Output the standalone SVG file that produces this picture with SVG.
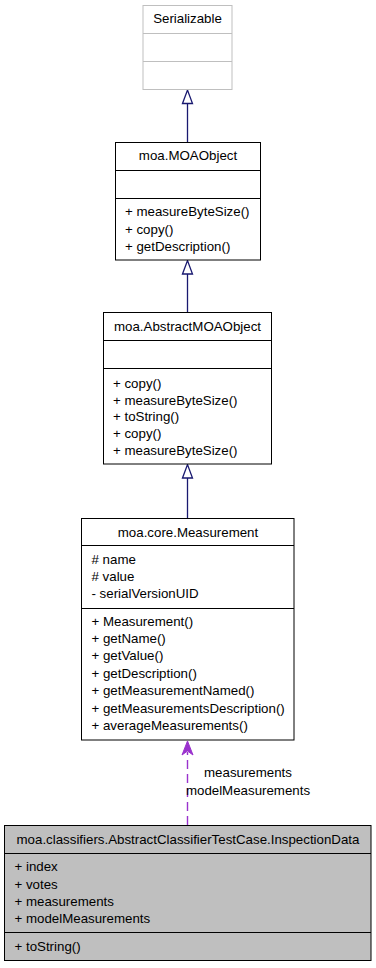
<svg xmlns="http://www.w3.org/2000/svg" width="376" height="968" viewBox="0 0 376 968">
  <style>
    text { font-family: "Liberation Sans", Arial, Helvetica, sans-serif; font-size: 13.3px; fill: #000; }
    .c { text-anchor: middle; }
    .box { fill: #fff; stroke: #000; stroke-width: 1; }
    .ext { fill: #fff; stroke: #bfbfbf; stroke-width: 1; }
    .cur { fill: #bfbfbf; stroke: #000; stroke-width: 1; }
    .inh { stroke: #191970; stroke-width: 1.3; fill: none; }
    .head { fill: #fff; stroke: #191970; stroke-width: 1.3; }
    .use { stroke: #9a32cd; stroke-width: 1.4; fill: none; stroke-dasharray: 9 5; }
  </style>

  <rect width="376" height="968" fill="#fff"/>

  <!-- connectors: inheritance (hollow triangles) and usage (dashed) -->
  <g id="edges">
    <line class="inh" x1="187.5" y1="103" x2="187.5" y2="142"/>
    <path class="head" d="M182.5,103.5 L187.5,90 L192.5,103.5 Z"/>
    <line class="inh" x1="187.5" y1="274" x2="187.5" y2="312"/>
    <path class="head" d="M182.5,274 L187.5,260.5 L192.5,274 Z"/>
    <line class="inh" x1="187.5" y1="478" x2="187.5" y2="518"/>
    <path class="head" d="M182.5,478 L187.5,464.5 L192.5,478 Z"/>
    <line class="use" x1="187.5" y1="825" x2="187.5" y2="752"/>
    <path d="M187.5,741 L193,755 L187.5,751 L182,755 Z" fill="#9a32cd" stroke="#9a32cd" stroke-width="1"/>
    <text class="c" x="248" y="776.5">measurements</text>
    <text class="c" x="248" y="795">modelMeasurements</text>
  </g>

  <g id="serializable">
    <rect class="ext" x="143" y="5.5" width="89" height="84"/>
    <line x1="143" y1="33.5" x2="232" y2="33.5" stroke="#bfbfbf"/>
    <line x1="143" y1="61.5" x2="232" y2="61.5" stroke="#bfbfbf"/>
    <text class="c" x="187.5" y="23">Serializable</text>
  </g>

  <g id="moaobject">
    <rect class="box" x="115.5" y="142.5" width="145" height="117.5"/>
    <line x1="115.5" y1="170.5" x2="260.5" y2="170.5" stroke="#000"/>
    <line x1="115.5" y1="198.5" x2="260.5" y2="198.5" stroke="#000"/>
    <text class="c" x="188" y="160">moa.MOAObject</text>
    <text x="125" y="216">+ measureByteSize()</text>
    <text x="125" y="233.5">+ copy()</text>
    <text x="125" y="250.5">+ getDescription()</text>
  </g>

  <g id="abstractmoaobject">
    <rect class="box" x="103.5" y="312.5" width="168" height="151.5"/>
    <line x1="103.5" y1="340.5" x2="271.5" y2="340.5" stroke="#000"/>
    <line x1="103.5" y1="368.5" x2="271.5" y2="368.5" stroke="#000"/>
    <text class="c" x="187.5" y="331">moa.AbstractMOAObject</text>
    <text x="113" y="387.5">+ copy()</text>
    <text x="113" y="404.5">+ measureByteSize()</text>
    <text x="113" y="421">+ toString()</text>
    <text x="113" y="438">+ copy()</text>
    <text x="113" y="455">+ measureByteSize()</text>
  </g>

  <g id="measurement">
    <rect class="box" x="81.5" y="518.5" width="212.5" height="221.5"/>
    <line x1="81.5" y1="545.5" x2="294" y2="545.5" stroke="#000"/>
    <line x1="81.5" y1="608.5" x2="294" y2="608.5" stroke="#000"/>
    <text class="c" x="188" y="536.5">moa.core.Measurement</text>
    <text x="91.5" y="564">#&#160;name</text>
    <text x="91.5" y="581">#&#160;value</text>
    <text x="91.5" y="598">- serialVersionUID</text>
    <text x="91.5" y="626">+ Measurement()</text>
    <text x="91.5" y="643">+ getName()</text>
    <text x="91.5" y="660">+ getValue()</text>
    <text x="91.5" y="677.5">+ getDescription()</text>
    <text x="91.5" y="695">+ getMeasurementNamed()</text>
    <text x="91.5" y="712.5">+ getMeasurementsDescription()</text>
    <text x="91.5" y="729.5">+ averageMeasurements()</text>
  </g>

  <g id="inspectiondata">
    <rect class="cur" x="4.5" y="825.5" width="366.5" height="135"/>
    <line x1="4.5" y1="853.5" x2="371" y2="853.5" stroke="#000"/>
    <line x1="4.5" y1="932.5" x2="371" y2="932.5" stroke="#000"/>
    <text class="c" x="188" y="843.5">moa.classifiers.AbstractClassifierTestCase.InspectionData</text>
    <text x="14.5" y="871">+ index</text>
    <text x="14.5" y="888.5">+ votes</text>
    <text x="14.5" y="905.5">+ measurements</text>
    <text x="14.5" y="922.5">+ modelMeasurements</text>
    <text x="14.5" y="951">+ toString()</text>
  </g>
</svg>
